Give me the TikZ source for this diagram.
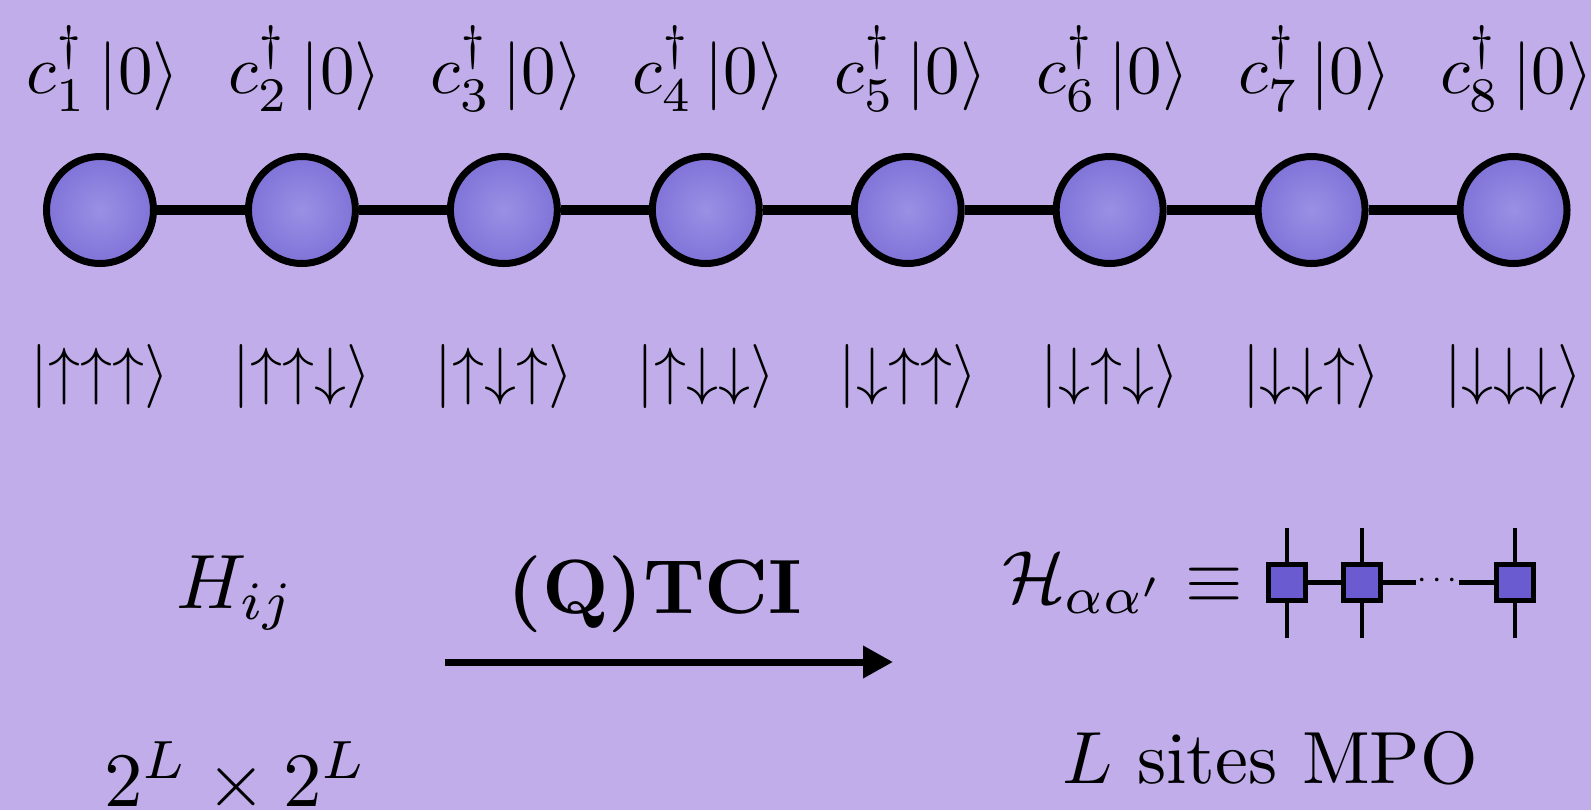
\documentclass[tikz,border=0pt]{standalone}
\usetikzlibrary{arrows.meta}
\definecolor{bg}{RGB}{192,173,233}
\definecolor{ballin}{RGB}{154,144,228}
\definecolor{ballout}{RGB}{100,86,204}
\definecolor{boxfill}{RGB}{106,92,208}
\pgfdeclareradialshading{ball}{\pgfpoint{0bp}{0bp}}{color(0bp)=(ballin); color(50bp)=(ballout)}
\begin{document}
\begin{tikzpicture}[x=0.5pt,y=-0.5pt,
  site/.style={circle, draw=black, line width=3.5pt, minimum size=53.5pt, inner sep=0pt, shade, shading=ball},
  bond/.style={line width=5pt, black},
  toplbl/.style={inner sep=0pt, anchor=base, scale=3.45},
  ketlbl/.style={inner sep=0pt, anchor=base, scale=3.2},
  big/.style={inner sep=0pt, anchor=base, scale=3.85},
  mpo/.style={rectangle, draw=black, fill=boxfill, line width=2.35pt, minimum width=18.3pt, minimum height=18.3pt, inner sep=0pt},
  leg/.style={line width=2.35pt, black},
  flow/.style={line width=3.5pt, -{Triangle[length=15pt,width=15.5pt]}}]
\path[fill=bg, use as bounding box] (0,0) rectangle (1591,810);
% chain
\foreach \i in {1,...,8} {
  \node[site] (s\i) at ({100+201.93*(\i-1)},210) {};
  \node[toplbl] (c\i) at ({103+201.93*(\i-1)},93) {$c_{\i}^{\dagger}\left|0\right\rangle$};
}
\foreach \i [evaluate=\i as \j using int(\i+1)] in {1,...,7} {
  \draw[bond] (s\i) -- (s\j);
}
% spin kets
\foreach \i/\k in {1/\uparrow\uparrow\uparrow, 2/\uparrow\uparrow\downarrow, 3/\uparrow\downarrow\uparrow, 4/\uparrow\downarrow\downarrow, 5/\downarrow\uparrow\uparrow, 6/\downarrow\uparrow\downarrow, 7/\downarrow\downarrow\uparrow, 8/\downarrow\downarrow\downarrow} {
  \node[ketlbl] (k\i) at ({100+201.93*(\i-1)},392) {$\left|\k\right\rangle$};
}
% bottom part
\node[big] (H) at (236,608) {$H_{ij}$};
\node[big] (tci) at (655,613) {\textbf{(Q)TCI}};
\coordinate (a0) at (445,662);
\coordinate (a1) at (893,662);
\draw[flow] (a0) -- (a1);
\node[inner sep=0pt, anchor=base east, scale=3.7] (Hc) at (1245,602) {$\mathcal{H}_{\alpha\alpha'}\equiv$};
\node[mpo] (b1) at (1287,582.5) {};
\node[mpo] (b2) at (1362,582.5) {};
\node[mpo] (b3) at (1515,582.5) {};
\foreach \b/\x in {b1/1287, b2/1362, b3/1515} {
  \coordinate (\b t) at (\x,528);
  \coordinate (\b u) at (\x,638);
  \draw[leg] (\b.north) -- (\b t);
  \draw[leg] (\b.south) -- (\b u);
}
\coordinate (d0) at (1416,582.5);
\coordinate (d1) at (1459,582.5);
\draw[leg] (b1.east) -- (b2.west);
\draw[leg] (b2.east) -- (d0);
\draw[leg] (d1) -- (b3.west);
\node[inner sep=0pt, scale=1.7] (dots) at (1437.5,581) {$\cdots$};
\node[inner sep=0pt, anchor=base, scale=3.85] (dim) at (236,806) {$2^L\times 2^L$};
\node[inner sep=0pt, anchor=base, scale=3.7] (sites) at (1270,783) {$L$ sites MPO};
\end{tikzpicture}
\end{document}
